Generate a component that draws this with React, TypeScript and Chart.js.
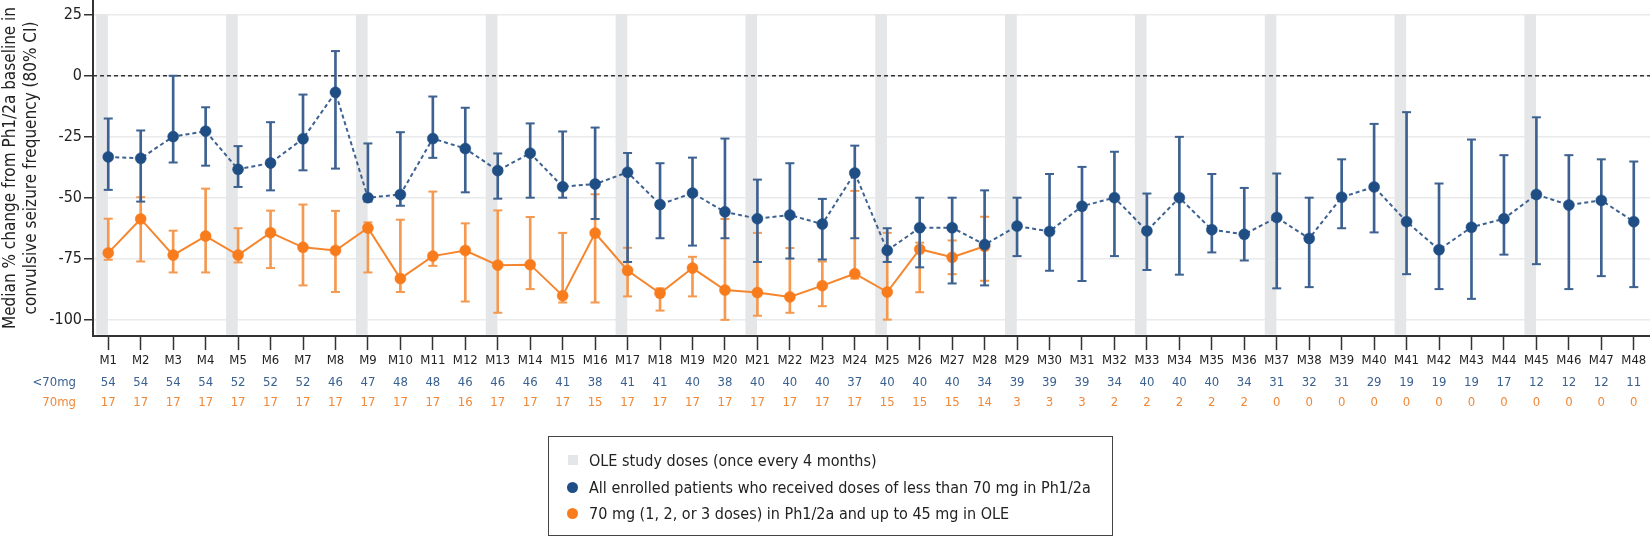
import React, { useEffect, useRef } from "react";
import { Chart, registerables } from "chart.js";

Chart.register(...registerables);

const monthLabels = [
  "M1","M2","M3","M4","M5","M6","M7","M8","M9","M10","M11","M12",
  "M13","M14","M15","M16","M17","M18","M19","M20","M21","M22","M23","M24",
  "M25","M26","M27","M28","M29","M30","M31","M32","M33","M34","M35","M36",
  "M37","M38","M39","M40","M41","M42","M43","M44","M45","M46","M47","M48",
];

const doseMonths = ["M1","M5","M9","M13","M17","M21","M25","M29","M33","M37","M41","M45"];

const yTickValues = [-100, -75, -50, -25, 0, 25];

// All enrolled patients < 70 mg
const lowDoseMedian = [
  -33.2,-33.8,-24.9,-22.7,-38.3,-35.7,-25.8,-6.8,-49.9,-48.6,-25.7,-29.8,
  -38.8,-31.7,-45.4,-44.3,-39.5,-52.7,-48.0,-55.7,-58.5,-57.0,-60.7,-39.8,
  -71.5,-62.2,-62.2,-69.1,-61.5,-63.7,-53.4,-49.9,-63.5,-49.9,-63.0,-64.9,
  -58.0,-66.6,-49.7,-45.5,-59.7,-71.2,-62.0,-58.5,-48.6,-52.9,-51.0,-59.7,
];
const lowDoseCILow = [
  -46.7,-51.5,-35.5,-36.8,-45.5,-46.9,-38.7,-38.0,-51.5,-53.2,-33.6,-47.7,
  -50.3,-49.9,-49.9,-58.6,-76.2,-66.5,-69.5,-66.5,-76.2,-74.8,-75.2,-66.5,
  -76.2,-78.4,-85.0,-85.8,-73.8,-79.8,-84.0,-73.8,-79.5,-81.4,-72.3,-75.6,
  -87.0,-86.5,-62.4,-64.1,-81.2,-87.3,-91.3,-73.2,-77.1,-87.3,-82.0,-86.5,
];
const lowDoseCIHigh = [
  -17.5,-22.4,0.0,-12.9,-28.8,-19.0,-7.7,10.1,-27.7,-23.1,-8.5,-13.1,
  -31.8,-19.5,-22.8,-21.2,-31.6,-35.8,-33.5,-25.7,-42.5,-35.8,-50.4,-28.6,
  -62.4,-49.9,-49.9,-46.9,-49.9,-40.2,-37.3,-31.1,-48.2,-25.0,-40.2,-45.9,
  -40.0,-49.9,-34.2,-19.7,-14.9,-44.1,-26.1,-32.5,-17.0,-32.5,-34.2,-35.1,
];

// 70 mg group (M1..M28)
const highDoseMedian = [
  -72.5,-58.6,-73.4,-65.6,-73.4,-64.2,-70.2,-71.5,-62.3,-83.0,-73.8,-71.5,
  -77.5,-77.3,-90.0,-64.4,-79.7,-89.0,-78.7,-87.7,-88.7,-90.5,-85.9,-81.0,
  -88.5,-71.0,-74.3,-69.8,
];
const highDoseCILow = [
  -75.3,-76.0,-80.5,-80.5,-76.4,-78.7,-85.8,-88.5,-80.5,-88.5,-77.8,-92.4,
  -97.0,-87.3,-92.8,-92.8,-90.3,-96.1,-90.3,-99.9,-98.2,-97.0,-94.3,-83.0,
  -99.8,-88.6,-81.2,-83.9,
];
const highDoseCIHigh = [
  -58.5,-49.7,-63.4,-46.2,-62.4,-55.2,-52.7,-55.3,-60.0,-58.9,-47.4,-60.4,
  -55.1,-57.8,-64.3,-48.5,-70.4,-87.0,-74.1,-58.6,-64.3,-70.5,-76.0,-47.1,
  -64.3,-68.3,-67.4,-57.7,
];

const nBelow70 = [
  54,54,54,54,52,52,52,46,47,48,48,46,46,46,41,38,41,41,40,38,40,40,40,37,
  40,40,40,34,39,39,39,34,40,40,40,34,31,32,31,29,19,19,19,17,12,12,12,11,
];
const n70 = [
  17,17,17,17,17,17,17,17,17,17,17,16,17,17,17,15,17,17,17,17,17,17,17,17,
  15,15,15,14,3,3,3,2,2,2,2,2,0,0,0,0,0,0,0,0,0,0,0,0,
];

const FONT = '"DejaVu Sans Condensed", "DejaVu Sans", sans-serif';
const BLUE = "#1f4e85";
const BLUE_LINE = "#3d6190";
const BLUE_TEXT = "#3b6190";
const ORANGE = "#f87b1c";
const ORANGE_LINE = "#f5862e";
const ORANGE_ERR = "#f4994f";
const ORANGE_TEXT = "#f08838";
const BAND = "#e5e6e8";
const TEXT = "#222222";

const W = 1650;
const H = 537;
const PLOT_BOTTOM = 336;
const X_MIN = 0.53;
const X_MAX = 48.5;
const Y_MIN = -106.5;
const Y_MAX = 31;
const ROW1_Y = 382.5;
const ROW2_Y = 402.5;

const xOf = (label: string) => monthLabels.indexOf(label) + 1;

const countsPlugin = {
  id: "countsRows",
  afterDraw(chart: any) {
    const { ctx } = chart;
    const x = chart.scales.x;
    ctx.save();
    ctx.font = `13px ${FONT}`;
    ctx.textBaseline = "middle";
    ctx.textAlign = "right";
    ctx.fillStyle = BLUE_TEXT;
    ctx.fillText("<70mg", 76, ROW1_Y);
    ctx.fillStyle = ORANGE_TEXT;
    ctx.fillText("70mg", 76, ROW2_Y);
    ctx.textAlign = "center";
    monthLabels.forEach((m, i) => {
      const px = x.getPixelForValue(xOf(m));
      ctx.fillStyle = BLUE_TEXT;
      ctx.fillText(String(nBelow70[i]), px, ROW1_Y);
      ctx.fillStyle = ORANGE_TEXT;
      ctx.fillText(String(n70[i]), px, ROW2_Y);
    });
    ctx.restore();
  },
};

export default function App() {
  const canvasRef = useRef<HTMLCanvasElement | null>(null);

  useEffect(() => {
    document.body.style.margin = "0";
    const canvas = canvasRef.current;
    if (!canvas) return;

    const pts = (vals: number[]) => vals.map((v, i) => ({ x: i + 1, y: v }));
    const stems = (lo: number[], hi: number[]) =>
      lo.map((v, i) => ({ x: i + 1, y: [v, hi[i]] }));

    const chart = new Chart(canvas, {
      type: "line",
      data: {
        datasets: [
          {
            type: "bar",
            label: "OLE study doses (once every 4 months)",
            data: doseMonths.map((m) => ({ x: xOf(m) - 0.19, y: [Y_MIN + 0.6, 25] })),
            backgroundColor: BAND,
            borderWidth: 0,
            barThickness: 11,
            grouped: false,
            order: 20,
          } as any,
          {
            type: "line",
            label: "zero",
            data: [
              { x: X_MIN, y: 0 },
              { x: X_MAX, y: 0 },
            ],
            borderColor: "#333333",
            borderWidth: 1.5,
            borderDash: [4, 3],
            pointRadius: 0,
            order: 19,
          } as any,
          {
            type: "bar",
            label: "70 stems",
            data: stems(highDoseCILow, highDoseCIHigh),
            backgroundColor: ORANGE_ERR,
            borderWidth: 0,
            barThickness: 2,
            grouped: false,
            order: 18,
          } as any,
          {
            type: "line",
            label: "70 caps",
            data: [...pts(highDoseCILow), ...pts(highDoseCIHigh)],
            showLine: false,
            pointStyle: "line",
            pointRadius: 4.5,
            pointBorderWidth: 2,
            pointBorderColor: ORANGE_ERR,
            order: 17,
          } as any,
          {
            type: "line",
            label: "70 mg (1, 2, or 3 doses) in Ph1/2a and up to 45 mg in OLE",
            data: pts(highDoseMedian),
            borderColor: ORANGE_LINE,
            borderWidth: 2,
            pointRadius: 5.5,
            pointBackgroundColor: ORANGE,
            pointBorderColor: ORANGE,
            pointBorderWidth: 0.5,
            order: 16,
          } as any,
          {
            type: "bar",
            label: "<70 stems",
            data: stems(lowDoseCILow, lowDoseCIHigh),
            backgroundColor: BLUE_LINE,
            borderWidth: 0,
            barThickness: 2,
            grouped: false,
            order: 15,
          } as any,
          {
            type: "line",
            label: "<70 caps",
            data: [...pts(lowDoseCILow), ...pts(lowDoseCIHigh)],
            showLine: false,
            pointStyle: "line",
            pointRadius: 4.5,
            pointBorderWidth: 2,
            pointBorderColor: BLUE_LINE,
            order: 14,
          } as any,
          {
            type: "line",
            label: "All enrolled patients who received doses of less than 70 mg in Ph1/2a",
            data: pts(lowDoseMedian),
            borderColor: BLUE_LINE,
            borderWidth: 2,
            borderDash: [4, 3],
            pointRadius: 5.5,
            pointBackgroundColor: BLUE,
            pointBorderColor: BLUE,
            pointBorderWidth: 0.5,
            order: 13,
          } as any,
        ],
      },
      options: {
        animation: false,
        responsive: false,
        events: [],
        layout: { padding: 0, autoPadding: false } as any,
        plugins: {
          legend: { display: false },
          tooltip: { enabled: false },
        },
        scales: {
          x: {
            type: "linear",
            min: X_MIN,
            max: X_MAX,
            offset: false,
            afterBuildTicks: (s: any) => {
              s.ticks = monthLabels.map((m) => ({ value: xOf(m) }));
            },
            afterFit: (s: any) => {
              s.height = H - PLOT_BOTTOM;
              s.paddingLeft = 0;
              s.paddingRight = 0;
            },
            ticks: {
              callback: (v: any) => monthLabels[Math.round(Number(v)) - 1],
              font: { family: FONT, size: 13 },
              color: TEXT,
              padding: 3,
              autoSkip: false,
              maxRotation: 0,
              minRotation: 0,
            },
            grid: {
              display: true,
              offset: false,
              drawOnChartArea: false,
              drawTicks: true,
              tickLength: 14,
              tickColor: "#333333",
              tickWidth: 1.5,
            },
            border: { display: true, color: "#333333", width: 2 },
          } as any,
          y: {
            type: "linear",
            min: Y_MIN,
            max: Y_MAX,
            afterBuildTicks: (s: any) => {
              s.ticks = yTickValues.map((v) => ({ value: v }));
            },
            afterFit: (s: any) => {
              s.width = 93;
              s.paddingTop = 0;
              s.paddingBottom = 0;
            },
            ticks: {
              font: { family: FONT, size: 16 },
              color: TEXT,
              padding: 2,
            },
            grid: {
              color: "#e9eaec",
              lineWidth: 1.5,
              tickColor: "#333333",
              tickLength: 9,
              tickWidth: 1.5,
            },
            border: { display: true, color: "#333333", width: 2 },
            title: {
              display: true,
              text: [
                "Median % change from Ph1/2a baseline in",
                "convulsive seizure frequency (80% CI)",
              ],
              font: { family: FONT, size: 17, lineHeight: 1.25 },
              color: TEXT,
              padding: 0,
            },
          } as any,
        },
      },
      plugins: [countsPlugin],
    });

    return () => chart.destroy();
  }, []);

  const item = (top: number, marker: React.ReactNode, text: string) => (
    <div
      style={{
        position: "absolute",
        left: 0,
        top,
        height: 20,
        display: "flex",
        alignItems: "center",
        whiteSpace: "nowrap",
      }}
    >
      <div style={{ width: 40, display: "flex", justifyContent: "center", paddingLeft: 7, boxSizing: "border-box" }}>
        {marker}
      </div>
      <span>{text}</span>
    </div>
  );

  return (
    <div style={{ position: "relative", width: W, height: H, overflow: "hidden", background: "#fff" }}>
      <canvas ref={canvasRef} width={W} height={H} style={{ display: "block", width: W, height: H }} />
      <div
        style={{
          position: "absolute",
          left: 548,
          top: 436,
          width: 565,
          height: 100,
          boxSizing: "border-box",
          border: "1.5px solid #444",
          fontFamily: FONT,
          fontSize: 16,
          color: TEXT,
        }}
      >
        {item(13, <div style={{ width: 10, height: 10, background: BAND }} />, "OLE study doses (once every 4 months)")}
        {item(40, <div style={{ width: 11, height: 11, borderRadius: "50%", background: BLUE }} />, "All enrolled patients who received doses of less than 70 mg in Ph1/2a")}
        {item(66, <div style={{ width: 11, height: 11, borderRadius: "50%", background: ORANGE }} />, "70 mg (1, 2, or 3 doses) in Ph1/2a and up to 45 mg in OLE")}
      </div>
    </div>
  );
}
